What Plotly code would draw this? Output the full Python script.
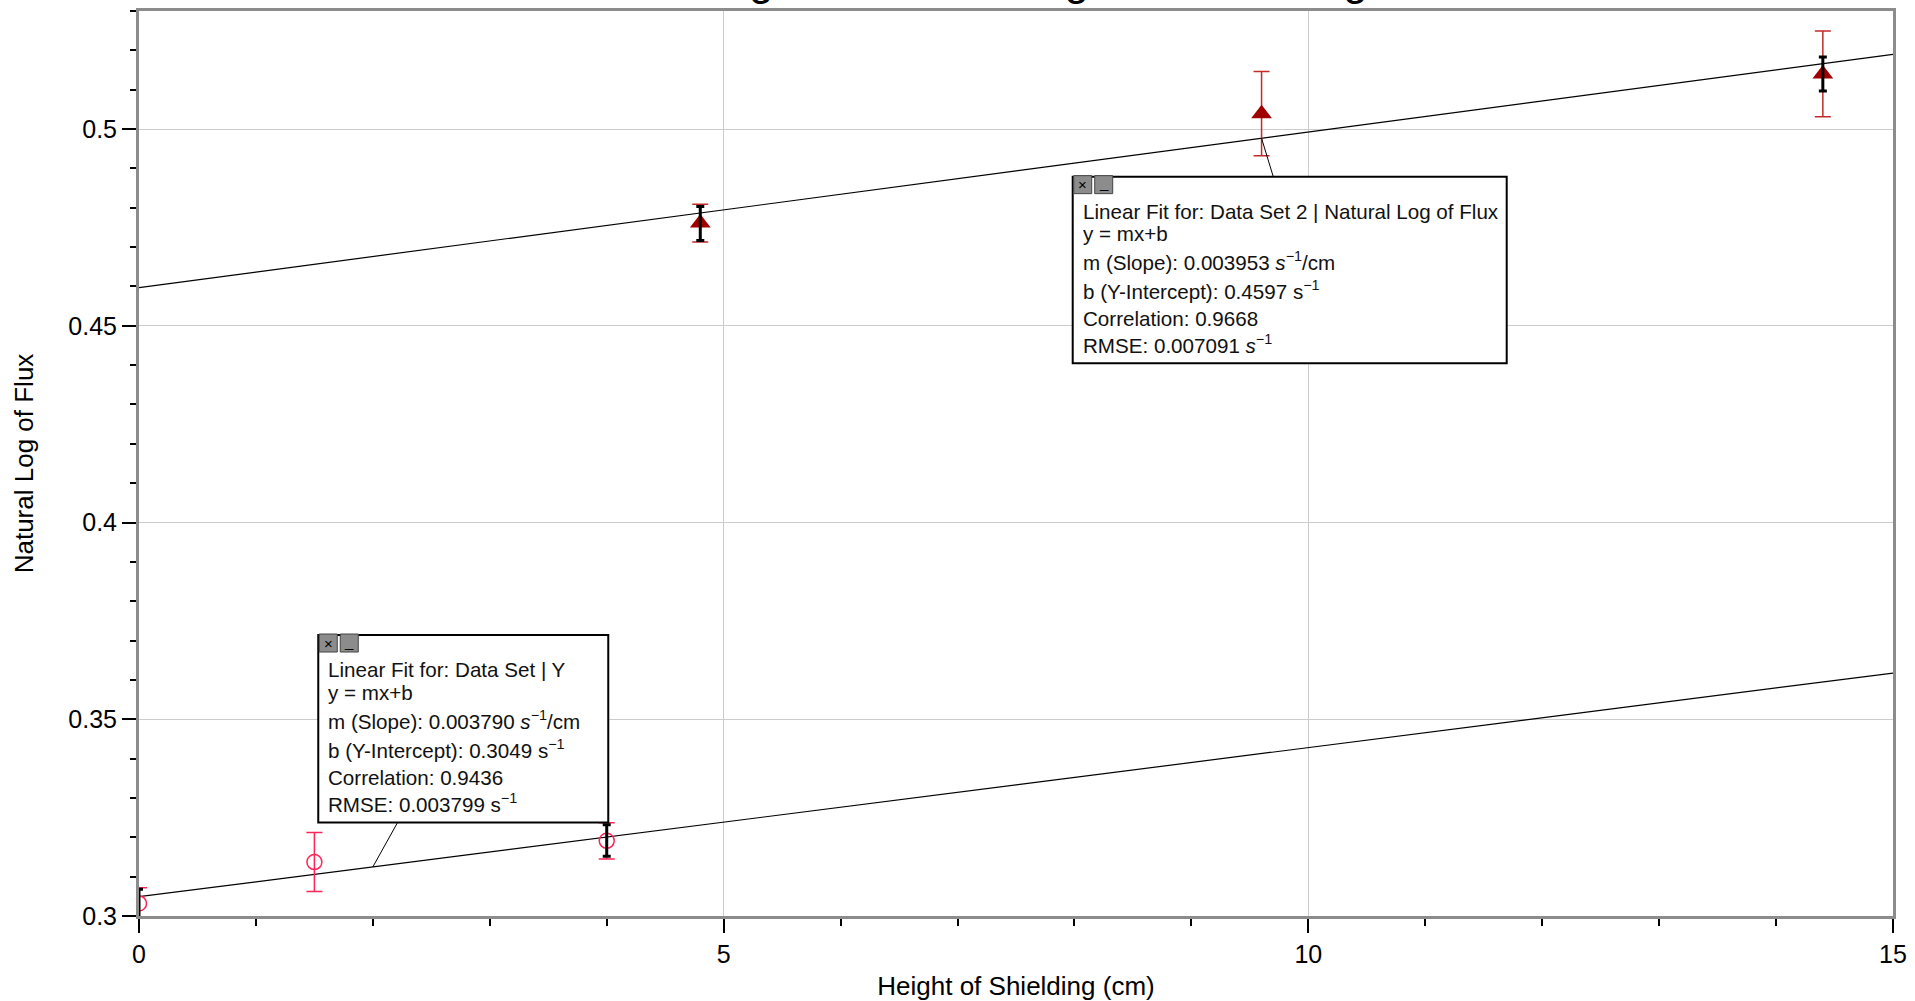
import plotly.graph_objects as go

# ---------------- data ----------------
ds1_x = [0.0, 1.5, 4.0]
ds1_y = [0.3032, 0.3137, 0.3191]
ds1_err = [0.0040, 0.0075, 0.0046]

ds2_x = [4.8, 9.6, 14.4]
ds2_y = [0.4761, 0.5039, 0.5140]
ds2_err = [0.0048, 0.0107, 0.0109]

bar_x = [0.0, 4.0, 4.8, 14.4]
bar_y = [0.3028, 0.3192, 0.4760, 0.5140]
bar_err = [0.0040, 0.0040, 0.0043, 0.0043]

fit1_m, fit1_b = 0.003790, 0.3049
fit2_m, fit2_b = 0.003953, 0.4597
fit_x = [0, 15]

x_tickvals = [0, 5, 10, 15]
x_ticktext = ["0", "5", "10", "15"]
y_tickvals = [0.3, 0.35, 0.4, 0.45, 0.5]
y_ticktext = ["0.3", "0.35", "0.4", "0.45", "0.5"]

box1_lines = [
    "Linear Fit for: Data Set | Y",
    "y = mx+b",
    "m (Slope): 0.003790 <i>s</i><sup>\u22121</sup>/cm",
    "b (Y-Intercept): 0.3049 s<sup>\u22121</sup>",
    "Correlation: 0.9436",
    "RMSE: 0.003799 s<sup>\u22121</sup>",
]
box2_lines = [
    "Linear Fit for: Data Set 2 | Natural Log of Flux",
    "y = mx+b",
    "m (Slope): 0.003953 <i>s</i><sup>\u22121</sup>/cm",
    "b (Y-Intercept): 0.4597 s<sup>\u22121</sup>",
    "Correlation: 0.9668",
    "RMSE: 0.007091 <i>s</i><sup>\u22121</sup>",
]

FONT = "Arial, Liberation Sans, sans-serif"

fig = go.Figure()

# fit lines
fig.add_trace(go.Scatter(x=fit_x, y=[fit1_m * v + fit1_b for v in fit_x], mode="lines",
                         line=dict(color="black", width=1.2), hoverinfo="skip"))
fig.add_trace(go.Scatter(x=fit_x, y=[fit2_m * v + fit2_b for v in fit_x], mode="lines",
                         line=dict(color="black", width=1.2), hoverinfo="skip"))

# data set 1 (open circles)
fig.add_trace(go.Scatter(
    x=ds1_x, y=ds1_y, mode="markers",
    marker=dict(symbol="circle-open", size=15, color="#ff2458", line=dict(width=1.5, color="#ff2458")),
    error_y=dict(type="data", array=ds1_err, visible=True, color="#ff2458", thickness=1.5, width=8),
))

# data set 2 (triangles)
fig.add_trace(go.Scatter(
    x=ds2_x, y=ds2_y, mode="markers",
    marker=dict(symbol="triangle-up", size=18, color="#a00000"),
    error_y=dict(type="data", array=ds2_err, visible=True, color="#c42a2a", thickness=1.5, width=8),
))

# black uncertainty brackets
fig.add_trace(go.Scatter(
    x=bar_x, y=bar_y, mode="markers",
    marker=dict(size=1, color="rgba(0,0,0,0)"),
    error_y=dict(type="data", array=bar_err, visible=True, color="black", thickness=3, width=4),
))

# ---------------- fit boxes ----------------
shapes = []
annotations = []

def add_box(x_left, y_top, w, h, lines, link_from, link_to):
    shapes.append(dict(type="line", xref="x", yref="y", x0=link_from[0], y0=link_from[1],
                       x1=link_to[0], y1=link_to[1], line=dict(color="black", width=1), layer="above"))
    shapes.append(dict(type="rect", xref="x", yref="y", xsizemode="pixel", ysizemode="pixel",
                       xanchor=x_left, yanchor=y_top, x0=0, x1=w, y0=0, y1=-h,
                       line=dict(color="black", width=2), fillcolor="white", layer="above"))
    for i, sym in enumerate(["\u00d7", "_"]):
        shapes.append(dict(type="rect", xref="x", yref="y", xsizemode="pixel", ysizemode="pixel",
                           xanchor=x_left, yanchor=y_top, x0=1 + i * 21, x1=19 + i * 21, y0=1, y1=-17,
                           line=dict(color="#444444", width=1), fillcolor="#8c8c8c", layer="above"))
        annotations.append(dict(x=x_left, y=y_top, xref="x", yref="y", text=sym, showarrow=False,
                                xanchor="center", yanchor="middle", xshift=10 + i * 21,
                                yshift=-8 + (2 if sym == "_" else 0),
                                font=dict(size=15, color="black", family=FONT)))
    baselines = [48, 70.5, 99.5, 128.5, 155.5, 182.5]
    for txt, off in zip(lines, baselines):
        annotations.append(dict(x=x_left, y=y_top, xref="x", yref="y", text=txt, showarrow=False,
                                xanchor="left", yanchor="bottom", xshift=8, yshift=-off,
                                font=dict(size=20.6, color="#111111", family=FONT), align="left"))

add_box(1.533, 0.37141, 290, 187.5, box1_lines, (2.0, fit1_m * 2.0 + fit1_b), (2.21, 0.3237))
add_box(7.985, 0.4879, 434, 186.6, box2_lines, (9.60, fit2_m * 9.60 + fit2_b), (9.70, 0.4879))

# partially visible title at the very top
annotations.append(dict(x=0.4664, y=1, xref="paper", yref="paper", showarrow=False,
                        text="Natural Log of Flux vs. Height of Shielding",
                        xanchor="center", yanchor="bottom", yshift=5,
                        font=dict(size=44, color="black", family=FONT)))

axis_common = dict(
    showline=True, linecolor="#8c8c8c", linewidth=3, mirror=True,
    showgrid=True, gridcolor="#cccccc", gridwidth=1, zeroline=False,
    ticks="outside", ticklen=14, tickwidth=1.5, tickcolor="black",
    tickfont=dict(size=25, color="black", family=FONT),
    automargin=False,
)

fig.update_layout(
    width=1915, height=1001,
    margin=dict(l=139, r=22, t=11, b=85, autoexpand=False),
    plot_bgcolor="white", paper_bgcolor="white",
    showlegend=False,
    shapes=shapes, annotations=annotations,
    xaxis=dict(range=[0, 15], tickvals=x_tickvals, ticktext=x_ticktext,
               minor=dict(dtick=1, ticks="outside", ticklen=7, tickwidth=1.5, tickcolor="black", showgrid=False),
               title=dict(text="Height of Shielding (cm)", font=dict(size=26, color="black", family=FONT), standoff=10),
               **axis_common),
    yaxis=dict(range=[0.3, 0.53], tickvals=y_tickvals, ticktext=y_ticktext,
               minor=dict(dtick=0.01, tick0=0.3, ticks="outside", ticklen=6, tickwidth=1.5, tickcolor="black", showgrid=False),
               title=dict(text="Natural Log of Flux", font=dict(size=26, color="black", family=FONT), standoff=28),
               **axis_common),
)

fig.write_html("out.html")
